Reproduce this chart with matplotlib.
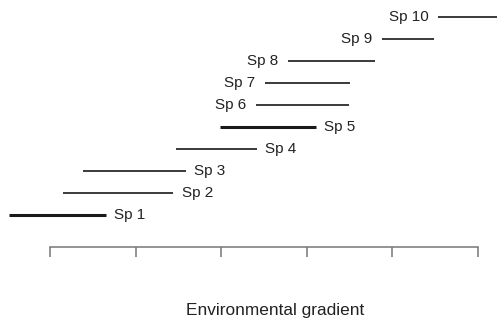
import matplotlib
matplotlib.use("Agg")
import matplotlib.pyplot as plt

species = ["Sp 1", "Sp 2", "Sp 3", "Sp 4", "Sp 5", "Sp 6", "Sp 7", "Sp 8", "Sp 9", "Sp 10"]
starts = [-9.5, 3.0, 7.8, 29.4, 39.7, 48.1, 50.2, 55.5, 77.5, 90.7]
ends = [13.1, 28.8, 31.8, 48.4, 62.1, 69.9, 70.1, 75.9, 89.8, 110.0]
label_side = ["right", "right", "right", "right", "right", "left", "left", "left", "left", "left"]
bold_species = ["Sp 1", "Sp 5"]
xticks = [0, 20, 40, 60, 80, 100]
xlabel = "Environmental gradient"

plt.rcParams['font.family'] = ['Liberation Sans', 'DejaVu Sans']

W, H = 497, 322
fig = plt.figure(figsize=(W / 100, H / 100), dpi=100)
ax = fig.add_axes([0, 75.3 / H, 1, 1 - 75.3 / H])
ax.set_xlim(-50 / 4.28, (W - 50) / 4.28)
ax.set_ylim(-0.427, 10.786)

for i, (name, s, e, side) in enumerate(zip(species, starts, ends, label_side)):
    y = i + 1
    thick = name in bold_species
    ax.plot([s, e], [y, y], color="#1a1a1a" if thick else "#3a3a3a",
            lw=2.2 if thick else 1.4, solid_capstyle="butt")
    if side == "right":
        ax.annotate(name, (e, y), xytext=(6, 0), textcoords="offset points",
                    ha="left", va="center", fontsize=11, color="#222222")
    else:
        ax.annotate(name, (s, y), xytext=(-7, 0), textcoords="offset points",
                    ha="right", va="center", fontsize=11, color="#222222")

for sp in ["top", "right", "left"]:
    ax.spines[sp].set_visible(False)
ax.spines["bottom"].set_bounds(xticks[0], xticks[-1])
ax.spines["bottom"].set_color("#777777")
ax.spines["bottom"].set_linewidth(1.1)
ax.set_xticks(xticks)
ax.set_xticklabels([])
ax.tick_params(axis="x", direction="out", length=7, width=1.1, color="#777777")
ax.set_yticks([])

fig.text(275 / W, 1 - 310 / H, xlabel, ha="center", va="center", fontsize=12.4, color="#222222")

fig.savefig("out.png", dpi=100)
